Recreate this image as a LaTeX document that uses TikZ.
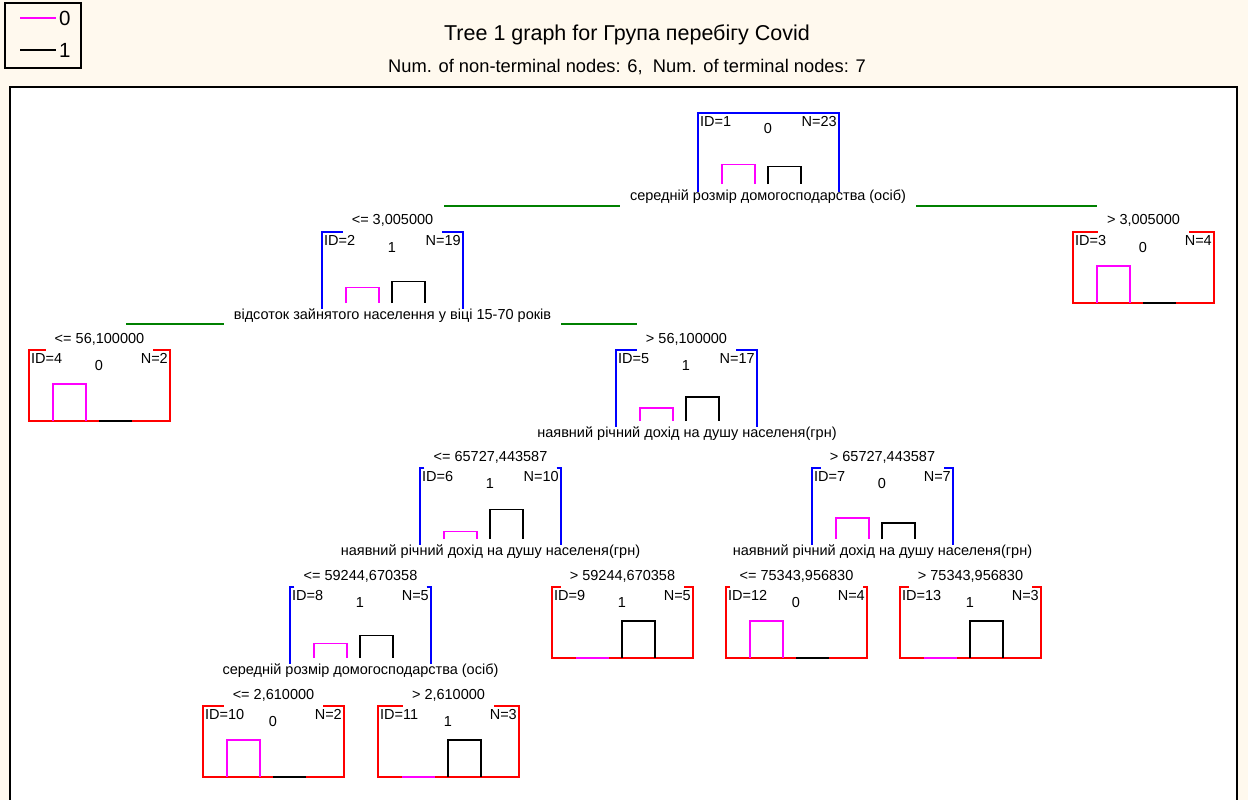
\documentclass[tikz,border=0pt]{standalone}
\usepackage{fontspec}
\setmainfont{Liberation Sans}
\definecolor{cream}{HTML}{FFF9EE}
\definecolor{tgreen}{RGB}{0,128,0}
\definecolor{tmag}{RGB}{255,0,255}
\tikzset{
  lbl/.style={font=\fontsize{14.5}{16}\selectfont, inner sep=0pt},
  cond/.style={lbl, inner xsep=9pt},
  split/.style={lbl, inner xsep=10pt},
  ntline/.style={blue, line width=1.3pt},
  tline/.style={red, line width=1.3pt},
  bar0/.style={tmag, line width=1.3pt},
  bar1/.style={black, line width=1.3pt},
  gline/.style={tgreen, line width=1.2pt},
  ttl/.style={font=\fontsize{18.3}{20}\selectfont, inner sep=0pt},
  ttlbig/.style={font=\fontsize{21.5}{23}\selectfont, inner sep=0pt},
  lgd/.style={font=\fontsize{20.5}{22}\selectfont, inner sep=0pt},
}
% contents of a node box: #1 name, #2 x, #3 y, #4 ID, #5 N, #6 predicted, #7 h0, #8 h1
\newcommand{\boxcontent}[8]{%
  \node[lbl, anchor=base west] (#1id) at (#2+2, #3+13) {ID=#4};
  \node[lbl, anchor=base east] (#1n) at (#2+139, #3+13) {N=#5};
  \node[lbl, anchor=base] (#1p) at (#2+70, #3+20) {#6};
  \draw[bar0] (#2+24, #3+71) |- (#2+57, #3+71-#7) -- (#2+57, #3+71);
  \draw[bar1] (#2+70, #3+71) |- (#2+103, #3+71-#8) -- (#2+103, #3+71);
}
% non-terminal frame: #1 x, #2 y, #3 condition node
\newcommand{\ntframe}[3]{%
  \draw[ntline] (#3.west |- #1,#2) -- (#1,#2) -- (#1,#2+77);
  \draw[ntline] (#3.east |- #1,#2) -- (#1+141,#2) -- (#1+141,#2+77);
}
% terminal frame: #1 x, #2 y, #3 condition node
\newcommand{\tframe}[3]{%
  \draw[tline] (#3.west |- #1,#2) -- (#1,#2) -- (#1,#2+71) -- (#1+141,#2+71) -- (#1+141,#2) -- (#3.east |- #1,#2);
}
\begin{document}
\begin{tikzpicture}[x=1pt, y=-1pt]
\useasboundingbox (0,0) rectangle (1248,800);
\fill[cream] (0,0) rectangle (1248,800);
\fill[white] (10,87) rectangle (1237,800);
\draw[line width=1.6pt] (10,800) -- (10,87) -- (1237,87) -- (1237,800);

% legend
\draw[line width=1.5pt] (5,3) rectangle (81,68);
\coordinate (lg0a) at (20,18); \coordinate (lg0b) at (56,18);
\coordinate (lg1a) at (20,50); \coordinate (lg1b) at (56,50);
\draw[tmag, line width=1.3pt] (lg0a) -- (lg0b);
\draw[black, line width=1.3pt] (lg1a) -- (lg1b);
\node[lgd, anchor=west] (lgt0) at (59,18) {0};
\node[lgd, anchor=west] (lgt1) at (59,50) {1};

% title
\node[ttlbig] (title1) at (627,35) {Tree 1 graph for Група перебігу Covid};
\node[ttl] (title2) at (627,67) {Num. of non-terminal nodes: 6,\ \ Num. of terminal nodes: 7};

% ---- node 1 (root)
\draw[ntline] (698,192) -- (698,113) -- (839,113) -- (839,192);
\boxcontent{n1}{698}{113}{1}{23}{0}{19.3}{17.7}
\node[split] (s1) at (768,197) {середній розмір домогосподарства (осіб)};
\coordinate (g1l) at (444,206);
\coordinate (g1r) at (1097,206);
\draw[gline] (g1l) -- (s1.west |- g1l);
\draw[gline] (s1.east |- g1r) -- (g1r);

% ---- node 2
\node[cond] (c2) at (392.5,220) {<= 3,005000};
\ntframe{322}{232}{c2}
\boxcontent{n2}{322}{232}{2}{19}{1}{15.6}{21.4}
\node[split] (s2) at (392.5,316) {відсоток зайнятого населення у віці 15-70 років};
\coordinate (g2l) at (126,324);
\coordinate (g2r) at (637,324);
\draw[gline] (g2l) -- (s2.west |- g2l);
\draw[gline] (s2.east |- g2r) -- (g2r);

% ---- node 3
\node[cond] (c3) at (1143.5,220) {> 3,005000};
\tframe{1073}{232}{c3}
\boxcontent{n3}{1073}{232}{3}{4}{0}{37}{0}

% ---- node 4
\node[cond] (c4) at (99.5,339) {<= 56,100000};
\tframe{29}{350}{c4}
\boxcontent{n4}{29}{350}{4}{2}{0}{37}{0}

% ---- node 5
\node[cond] (c5) at (686.5,339) {> 56,100000};
\ntframe{616}{350}{c5}
\boxcontent{n5}{616}{350}{5}{17}{1}{13.1}{23.9}
\node[split] (s5) at (687,434) {наявний річний дохід на душу населеня(грн)};

% ---- node 6
\node[cond] (c6) at (490.5,457) {<= 65727,443587};
\ntframe{420}{468}{c6}
\boxcontent{n6}{420}{468}{6}{10}{1}{7.4}{29.6}
\node[split] (s6) at (490.5,552) {наявний річний дохід на душу населеня(грн)};

% ---- node 7
\node[cond] (c7) at (882.5,457) {> 65727,443587};
\ntframe{812}{468}{c7}
\boxcontent{n7}{812}{468}{7}{7}{0}{21.1}{15.9}
\node[split] (s7) at (882.5,552) {наявний річний дохід на душу населеня(грн)};

% ---- node 8
\node[cond] (c8) at (360.5,576) {<= 59244,670358};
\ntframe{290}{587}{c8}
\boxcontent{n8}{290}{587}{8}{5}{1}{14.8}{22.2}
\node[split] (s8) at (360.5,671) {середній розмір домогосподарства (осіб)};

% ---- node 9
\node[cond] (c9) at (622.5,576) {> 59244,670358};
\tframe{552}{587}{c9}
\boxcontent{n9}{552}{587}{9}{5}{1}{0}{37}

% ---- node 12
\node[cond] (c12) at (796.5,576) {<= 75343,956830};
\tframe{726}{587}{c12}
\boxcontent{n12}{726}{587}{12}{4}{0}{37}{0}

% ---- node 13
\node[cond] (c13) at (970.5,576) {> 75343,956830};
\tframe{900}{587}{c13}
\boxcontent{n13}{900}{587}{13}{3}{1}{0}{37}

% ---- node 10
\node[cond] (c10) at (273.5,695) {<= 2,610000};
\tframe{203}{706}{c10}
\boxcontent{n10}{203}{706}{10}{2}{0}{37}{0}

% ---- node 11
\node[cond] (c11) at (448.5,695) {> 2,610000};
\tframe{378}{706}{c11}
\boxcontent{n11}{378}{706}{11}{3}{1}{0}{37}
\end{tikzpicture}
\end{document}
